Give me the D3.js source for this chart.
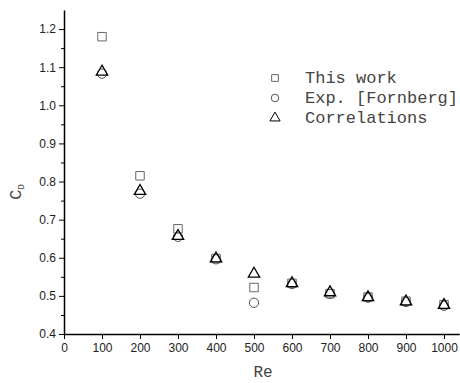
<!DOCTYPE html>
<html>
<head>
<meta charset="utf-8">
<script src="https://cdn.jsdelivr.net/npm/d3@7"></script>
<style>
  body { margin: 0; background: #fff; }
  .tick text { font-family: 'Liberation Sans', Arial, sans-serif; font-size: 12px; fill: #222; }
</style>
</head>
<body>
<svg id="chart" width="460" height="383"></svg>
<script>
// Re values and drag coefficients
const re = [100, 200, 300, 400, 500, 600, 700, 800, 900, 1000];
const thisWork = [1.18, 0.815, 0.676, 0.598, 0.522, 0.533, 0.506, 0.497, 0.486, 0.477];
const expFornberg = [1.083, 0.768, 0.655, 0.596, 0.482, 0.531, 0.505, 0.495, 0.484, 0.474];
const correlations = [1.088, 0.775, 0.657, 0.598, 0.558, 0.533, 0.509, 0.496, 0.485, 0.476];
const legendLabels = ['This work', 'Exp. [Fornberg]', 'Correlations'];
const xTicks = [0, 100, 200, 300, 400, 500, 600, 700, 800, 900, 1000];
const yTicks = [0.4, 0.5, 0.6, 0.7, 0.8, 0.9, 1.0, 1.1, 1.2];

const svg = d3.select('#chart');
const mLeft = 64, mBottom = 334, mTop = 10;
const monoFont = "'Liberation Mono', 'Courier New', monospace";

const x = d3.scaleLinear().domain([0, 1040]).range([mLeft, mLeft + 0.38 * 1040]);
const y = d3.scaleLinear().domain([0.4, 1.25]).range([mBottom, mTop]);

// minor y ticks
const yMinor = d3.range(0.45, 1.25, 0.1);
svg.append('g').attr('transform', 'translate(' + mLeft + ',0)')
    .call(d3.axisLeft(y).tickValues(yMinor).tickSize(3).tickFormat(''))
    .call(g => g.select('.domain').remove())
    .selectAll('line').attr('stroke', '#000');

const yAxis = svg.append('g').attr('transform', 'translate(' + mLeft + ',0)')
    .call(d3.axisLeft(y).tickValues(yTicks).tickSize(5).tickPadding(3).tickFormat(d3.format('.1f')).tickSizeOuter(0));
yAxis.select('.domain').attr('stroke', '#000').attr('stroke-width', 1.5);

const xAxis = svg.append('g').attr('transform', 'translate(0,' + mBottom + ')')
    .call(d3.axisBottom(x).tickValues(xTicks).tickSize(5).tickPadding(4).tickFormat(d3.format('d')).tickSizeOuter(0));
xAxis.select('.domain').attr('stroke', '#000').attr('stroke-width', 1.5);

// axis titles
svg.append('text').attr('x', 263).attr('y', 377).attr('text-anchor', 'middle')
    .style('font-family', monoFont).style('font-size', '16px').attr('fill', '#444')
    .text('Re');
const cd = svg.append('text').attr('transform', 'translate(21,192) rotate(-90)').attr('text-anchor', 'middle')
    .style('font-family', monoFont).style('font-size', '17px').attr('fill', '#444');
cd.append('tspan').text('C');
cd.append('tspan').attr('dy', 3).style('font-size', '9px').text('D');

// markers
const square = d3.symbol().type(d3.symbolSquare).size(72);
const circle = d3.symbol().type(d3.symbolCircle).size(68);
const triangle = d3.symbol().type(d3.symbolTriangle).size(56);

function plotSeries(vals, sym, stroke, width) {
  svg.append('g').selectAll('path').data(vals).join('path')
      .attr('d', sym)
      .attr('transform', (d, i) => 'translate(' + x(re[i]) + ',' + y(d) + ')')
      .attr('fill', 'none').attr('stroke', stroke).attr('stroke-width', width);
}
plotSeries(expFornberg, circle, '#555', 1);
plotSeries(thisWork, square, '#666', 1);
plotSeries(correlations, triangle, '#000', 1.3);

// legend
const legSyms = [
  d3.symbol().type(d3.symbolSquare).size(45),
  d3.symbol().type(d3.symbolCircle).size(45),
  d3.symbol().type(d3.symbolTriangle).size(45)
];
const legStroke = ['#666', '#555', '#000'];
const leg = svg.append('g');
legendLabels.forEach((t, i) => {
  const ly = 78 + i * 20;
  leg.append('path').attr('d', legSyms[i]).attr('transform', 'translate(275,' + ly + ')')
      .attr('fill', 'none').attr('stroke', legStroke[i]).attr('stroke-width', 1);
  leg.append('text').attr('x', 305).attr('y', ly + 5)
      .style('font-family', monoFont).style('font-size', '17px').attr('fill', '#444')
      .text(t);
});
</script>
</body>
</html>
